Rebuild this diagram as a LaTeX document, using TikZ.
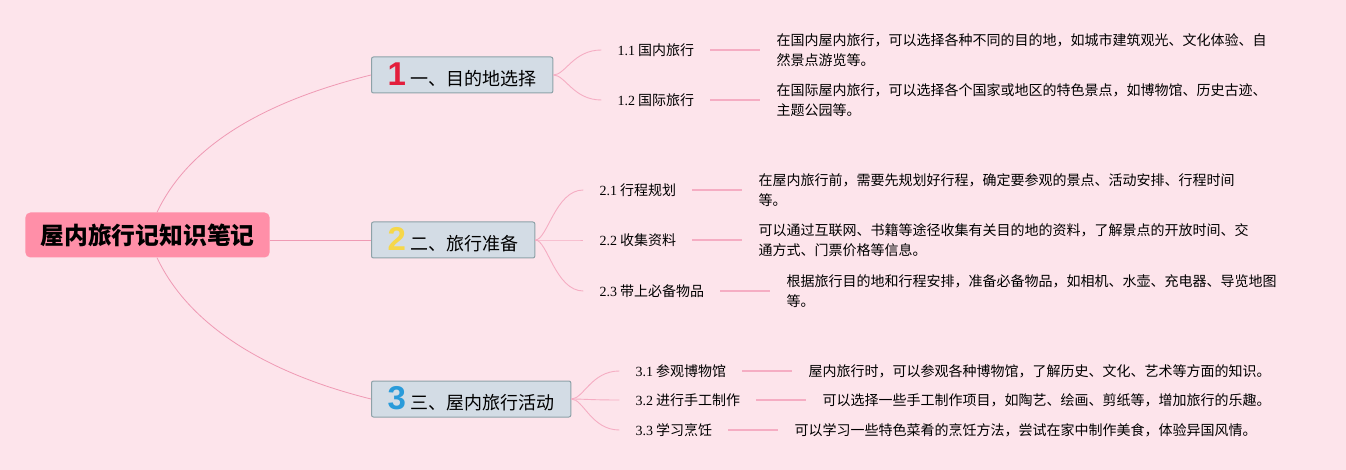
\documentclass[tikz,border=0pt]{standalone}
\usepackage{fontspec}
\setmainfont{Noto Sans CJK SC}
\newfontfamily\numserif{Liberation Serif}
\newfontfamily\bignum{Liberation Sans}
\usetikzlibrary{positioning,calc}
\definecolor{bg}{HTML}{FDE4EB}
\definecolor{rootfill}{HTML}{FF8FA8}
\definecolor{boxfill}{HTML}{D3DCE5}
\definecolor{boxline}{HTML}{8DA2A8}
\definecolor{linkc}{HTML}{EF9AB4}
\definecolor{subc}{HTML}{F5ADC3}
\definecolor{numred}{HTML}{E31E3C}
\definecolor{numyellow}{HTML}{F6D749}
\definecolor{numblue}{HTML}{2A9BDA}
\newcommand\bnum[2]{{\bignum\fontsize{33}{33}\selectfont\bfseries\color{#1}#2}\hspace{5pt}}
\newcommand\sn[1]{{\numserif #1}}
\begin{document}
\begin{tikzpicture}[x=1pt,y=-1pt,
 rootbox/.style={fill=rootfill, rounded corners=5pt, inner xsep=15pt, inner ysep=0pt, minimum height=45pt, font=\fontsize{23.8}{26}\selectfont\bfseries},
 branchbox/.style={fill=boxfill, draw=boxline, line width=1pt, rounded corners=2pt, inner xsep=16pt, inner ysep=0pt, minimum height=36pt, anchor=west, font=\fontsize{18}{20}\selectfont},
 sublabel/.style={anchor=west, inner xsep=16pt, inner ysep=2pt, font=\fontsize{14}{16}\selectfont},
 desc/.style={inner xsep=16pt, inner ysep=0pt, align=left, font=\fontsize{14}{20}\selectfont},
 rootlink/.style={draw=linkc, line width=0.8pt},
 branchlink/.style={draw=subc, line width=0.9pt},
 leaflink/.style={draw=subc, line width=1.4pt},
]
\fill[bg] (0,0) rectangle (1346,470);
\useasboundingbox (0,0) rectangle (1346,470);

\node[rootbox] (root) at (147.5,235) {屋内旅行记知识笔记};

\node[branchbox] (b1) at (371,75) {\bnum{numred}{1}一、目的地选择};
\node[branchbox] (b2) at (371,240) {\bnum{numyellow}{2}二、旅行准备};
\node[branchbox] (b3) at (371,399) {\bnum{numblue}{3}三、屋内旅行活动};

% branch 1
\node[sublabel] (l11) at ($(b1.east)+(48,-25)$) {\sn{1.1} 国内旅行};
\node[sublabel] (l12) at ($(b1.east)+(48,25)$) {\sn{1.2} 国际旅行};
\node[desc, right=50pt of l11] (d11) {在国内屋内旅行，可以选择各种不同的目的地，如城市建筑观光、文化体验、自\\然景点游览等。};
\node[desc, right=50pt of l12] (d12) {在国际屋内旅行，可以选择各个国家或地区的特色景点，如博物馆、历史古迹、\\主题公园等。};

% branch 2
\node[sublabel] (l21) at ($(b2.east)+(48,-50)$) {\sn{2.1} 行程规划};
\node[sublabel] (l22) at ($(b2.east)+(48,0)$) {\sn{2.2} 收集资料};
\node[sublabel] (l23) at ($(b2.east)+(48,51)$) {\sn{2.3} 带上必备物品};
\node[desc, right=50pt of l21] (d21) {在屋内旅行前，需要先规划好行程，确定要参观的景点、活动安排、行程时间\\等。};
\node[desc, right=50pt of l22] (d22) {可以通过互联网、书籍等途径收集有关目的地的资料，了解景点的开放时间、交\\通方式、门票价格等信息。};
\node[desc, right=50pt of l23] (d23) {根据旅行目的地和行程安排，准备必备物品，如相机、水壶、充电器、导览地图\\等。};

% branch 3
\node[sublabel] (l31) at ($(b3.east)+(48,-28)$) {\sn{3.1} 参观博物馆};
\node[sublabel] (l32) at ($(b3.east)+(48,1)$) {\sn{3.2} 进行手工制作};
\node[sublabel] (l33) at ($(b3.east)+(48,31)$) {\sn{3.3} 学习烹饪};
\node[desc, right=50pt of l31] (d31) {屋内旅行时，可以参观各种博物馆，了解历史、文化、艺术等方面的知识。};
\node[desc, right=50pt of l32] (d32) {可以选择一些手工制作项目，如陶艺、绘画、剪纸等，增加旅行的乐趣。};
\node[desc, right=50pt of l33] (d33) {可以学习一些特色菜肴的烹饪方法，尝试在家中制作美食，体验异国风情。};

% root links
\draw[rootlink] ([xshift=9.5pt]root.north) .. controls +(34,-72) and +(-97,24) .. (b1.west);
\draw[rootlink] (root.east |- b2.west) -- (b2.west);
\draw[rootlink] ([xshift=9.5pt]root.south) .. controls +(34,72) and +(-97,-24) .. (b3.west);

% branch links
\foreach \b/\l in {b1/l11,b1/l12,b2/l21,b2/l22,b2/l23,b3/l31,b3/l32,b3/l33}
  \draw[branchlink] (\b.east) .. controls +(12,0) and +(-28,0) .. (\l.west);

% leaf links
\foreach \l/\d in {l11/d11,l12/d12,l21/d21,l22/d22,l23/d23,l31/d31,l32/d32,l33/d33}
  \draw[leaflink] (\l.east) -- (\d.west);
\end{tikzpicture}
\end{document}
